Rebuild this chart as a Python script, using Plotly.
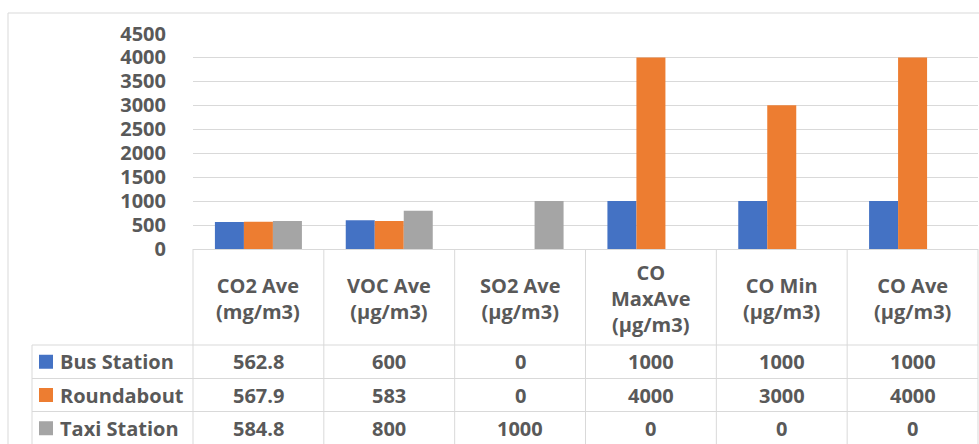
import plotly.graph_objects as go

# ---- data ----
categories = ["CO2 Ave<br>(mg/m3)", "VOC Ave<br>(µg/m3)", "SO2 Ave<br>(µg/m3)",
              "CO<br>MaxAve<br>(µg/m3)", "CO Min<br>(µg/m3)", "CO Ave<br>(µg/m3)"]
series_names = ["Bus Station", "Roundabout", "Taxi Station"]
bus_station = [562.8, 600, 0, 1000, 1000, 1000]
roundabout = [567.9, 583, 0, 4000, 3000, 4000]
taxi_station = [584.8, 800, 1000, 0, 0, 0]
series_values = [bus_station, roundabout, taxi_station]
y_ticks = [0, 500, 1000, 1500, 2000, 2500, 3000, 3500, 4000, 4500]

# ---- style ----
colors = ["#4472C4", "#ED7D31", "#A5A5A5"]
W, H = 979, 444
text_col = "#595959"
line_col = "#D9D9D9"
FONT = "Open Sans"
FS = 20

def px(x):
    return x / W

def py(y):
    return 1 - y / H

plot_left, plot_right = 193, 978
plot_top, plot_bottom = 33.5, 249
col_w = (plot_right - plot_left) / len(categories)

fig = go.Figure()
for name, vals, c in zip(series_names, series_values, colors):
    fig.add_trace(go.Bar(x=list(range(len(categories))), y=vals, name=name,
                         marker=dict(color=c, line=dict(width=0))))

shapes = []
annotations = []

def hline(y, x0, x1):
    shapes.append(dict(type="line", xref="paper", yref="paper", x0=px(x0), x1=px(x1),
                       y0=py(y), y1=py(y), line=dict(color=line_col, width=1)))

def vline(x, y0, y1):
    shapes.append(dict(type="line", xref="paper", yref="paper", x0=px(x), x1=px(x),
                       y0=py(y0), y1=py(y1), line=dict(color=line_col, width=1)))

# outer chart border
hline(13, 8, W + 2)
vline(8, 13, H + 2)

# table grid
row_tops = [345, 378.5, 411.5, 445]
for y in row_tops[:-1]:
    hline(y, 32, plot_right)
vline(32, row_tops[0], H + 2)
for i in range(len(categories) + 1):
    vline(plot_left + i * col_w, plot_bottom, H + 2)

# header labels
for i, cat in enumerate(categories):
    annotations.append(dict(x=px(plot_left + (i + 0.5) * col_w), y=py(298.5),
                            xref="paper", yref="paper", text=cat, showarrow=False,
                            xanchor="center", yanchor="middle",
                            font=dict(family=FONT, size=FS, color=text_col, weight="bold")))

# rows
for r, (name, vals, c) in enumerate(zip(series_names, series_values, colors)):
    yc = (row_tops[r] + row_tops[r + 1]) / 2
    shapes.append(dict(type="rect", xref="paper", yref="paper",
                       x0=px(39), x1=px(53), y0=py(yc - 7), y1=py(yc + 7),
                       fillcolor=c, line=dict(width=0)))
    annotations.append(dict(x=px(58), y=py(yc), xref="paper", yref="paper",
                            text=name, showarrow=False, xanchor="left", yanchor="middle",
                            font=dict(family=FONT, size=FS, color=text_col, weight="bold")))
    for i, v in enumerate(vals):
        annotations.append(dict(x=px(plot_left + (i + 0.5) * col_w), y=py(yc),
                                xref="paper", yref="paper", text=f"{v:g}", showarrow=False,
                                xanchor="center", yanchor="middle",
                                font=dict(family=FONT, size=FS, color=text_col, weight="bold")))

fig.update_layout(
    template="none",
    width=W, height=H,
    margin=dict(l=0, r=0, t=0, b=0, pad=0, autoexpand=False),
    paper_bgcolor="white", plot_bgcolor="white",
    showlegend=False,
    barmode="group", bargap=1 - 87 / col_w, bargroupgap=0,
    xaxis=dict(domain=[px(plot_left), px(plot_right)], range=[-0.5, len(categories) - 0.5],
               showticklabels=False, showgrid=False, zeroline=False, showline=False,
               ticks="", automargin=False, fixedrange=True),
    yaxis=dict(domain=[py(plot_bottom), py(plot_top)], range=[0, 4500],
               tickvals=y_ticks, ticktext=[str(t) for t in y_ticks],
               showgrid=True, gridcolor=line_col, gridwidth=1,
               zeroline=True, zerolinecolor=line_col, zerolinewidth=1,
               showline=False, ticks="", automargin=False, ticklabelstandoff=26,
               fixedrange=True,
               tickfont=dict(family=FONT, size=FS, color=text_col, weight="bold")),
    shapes=shapes, annotations=annotations,
)

fig.write_html("out.html", config={"displayModeBar": False, "staticPlot": True},
               post_script="document.body.style.margin='0';document.body.style.overflow='hidden';")
